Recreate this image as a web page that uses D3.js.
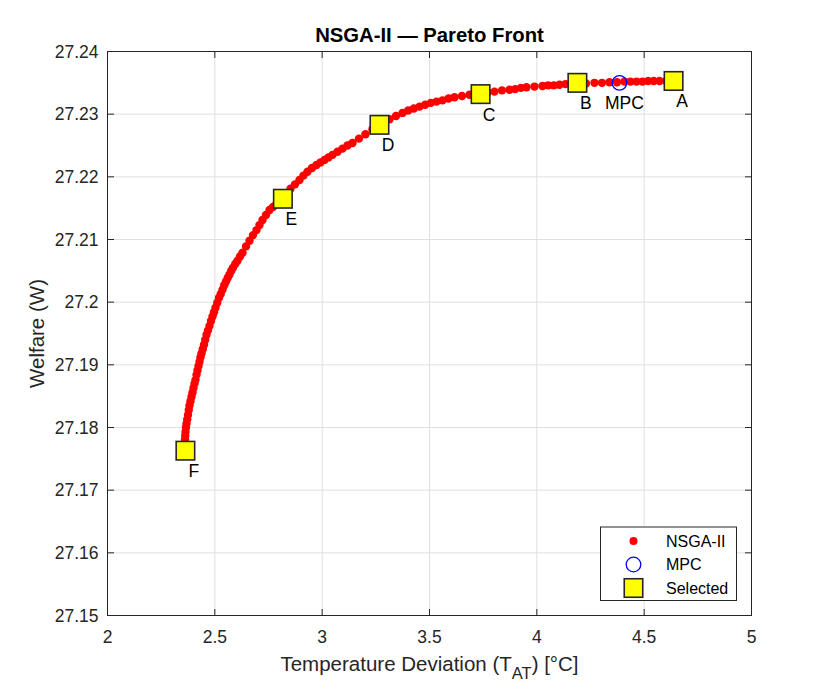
<!DOCTYPE html>
<html>
<head>
<meta charset="utf-8">
<script src="https://cdn.jsdelivr.net/npm/d3@7"></script>
<style>
  body { margin: 0; background: #fff; }
  svg { font-family: "Liberation Sans", Arial, Helvetica, sans-serif; }
</style>
</head>
<body>
<div id="chart"></div>
<script>
// NSGA-II front (temperature deviation, welfare)
const nsgaX = [
  2.3610, 2.3622, 2.3634, 2.3655, 2.3680, 2.3713, 2.3750, 2.3785, 2.3820, 2.3866,
  2.3913, 2.3960, 2.4006, 2.4052, 2.4099, 2.4146, 2.4193, 2.4240, 2.4286, 2.4332,
  2.4379, 2.4437, 2.4495, 2.4553, 2.4612, 2.4682, 2.4752, 2.4821, 2.4891, 2.4961,
  2.5031, 2.5112, 2.5194, 2.5275, 2.5357, 2.5438, 2.5520, 2.5601, 2.5683, 2.5764,
  2.5846, 2.5951, 2.6056, 2.6172, 2.6289, 2.6452, 2.6615, 2.6778, 2.6941, 2.7080,
  2.7220, 2.7383, 2.7547, 2.7710, 2.7873, 2.8012, 2.8152, 2.8338, 2.8525, 2.8734,
  2.8944, 2.9130, 2.9317, 2.9526, 2.9736, 2.9922, 3.0109, 3.0295, 3.0481, 3.0714,
  3.0947, 3.1180, 3.1413, 3.1715, 3.2018, 3.2344, 3.2671, 3.2904, 3.3136, 3.3439,
  3.3742, 3.4006, 3.4270, 3.4534, 3.4798, 3.5062, 3.5326, 3.5606, 3.5886, 3.6165,
  3.6514, 3.6863, 3.7120, 3.7376, 3.7702, 3.8028, 3.8378, 3.8727, 3.8991, 3.9255,
  3.9518, 3.9891, 4.0264, 4.0528, 4.0792, 4.1056, 4.1335, 4.1615, 4.1894, 4.2290,
  4.2686, 4.3036, 4.3385, 4.3735, 4.4084, 4.4363, 4.4643, 4.4922, 4.5186, 4.5450,
  4.5714, 4.6017, 4.6320
];
const nsgaY = [
  27.1781, 27.1787, 27.1793, 27.1800, 27.1806, 27.1813, 27.1820, 27.1828, 27.1835, 27.1842,
  27.1849, 27.1856, 27.1863, 27.1870, 27.1876, 27.1884, 27.1891, 27.1898, 27.1905, 27.1912,
  27.1918, 27.1925, 27.1932, 27.1940, 27.1948, 27.1955, 27.1962, 27.1970, 27.1977, 27.1984,
  27.1991, 27.1999, 27.2007, 27.2013, 27.2020, 27.2027, 27.2033, 27.2039, 27.2044, 27.2050,
  27.2055, 27.2061, 27.2066, 27.2073, 27.2079, 27.2089, 27.2098, 27.2107, 27.2115, 27.2123,
  27.2131, 27.2139, 27.2147, 27.2152, 27.2157, 27.2162, 27.2166, 27.2174, 27.2181, 27.2188,
  27.2195, 27.2202, 27.2208, 27.2214, 27.2219, 27.2223, 27.2227, 27.2231, 27.2235, 27.2240,
  27.2245, 27.2250, 27.2254, 27.2261, 27.2268, 27.2276, 27.2283, 27.2288, 27.2292, 27.2297,
  27.2302, 27.2306, 27.2309, 27.2312, 27.2315, 27.2318, 27.2320, 27.2322, 27.2325, 27.2327,
  27.2329, 27.2331, 27.2332, 27.2333, 27.2335, 27.2336, 27.2338, 27.2339, 27.2340, 27.2342,
  27.2343, 27.2344, 27.2345, 27.2346, 27.2346, 27.2347, 27.2348, 27.2348, 27.2349, 27.2349,
  27.2350, 27.2350, 27.2351, 27.2351, 27.2352, 27.2352, 27.2352, 27.2352, 27.2353, 27.2353,
  27.2353, 27.2353, 27.2353
];

// MPC reference point
const mpcX = 4.385;
const mpcY = 27.2350;

// selected solutions
const selLabels = ["A", "B", "C", "D", "E", "F"];
const selX = [4.637, 4.189, 3.738, 3.267, 2.817, 2.363];
const selY = [27.2353, 27.2350, 27.2332, 27.2283, 27.2165, 27.1763];

const xTicks = [2, 2.5, 3, 3.5, 4, 4.5, 5];
const yTicks = [27.15, 27.16, 27.17, 27.18, 27.19, 27.2, 27.21, 27.22, 27.23, 27.24];

const W = 830, H = 692;
const box = { l: 107.5, r: 751.5, t: 51.5, b: 615.5 };
const ink = "#262626";

const x = d3.scaleLinear().domain([2, 5]).range([box.l, box.r]);
const y = d3.scaleLinear().domain([27.15, 27.24]).range([box.b, box.t]);

const svg = d3.select("#chart").append("svg")
    .attr("width", W)
    .attr("height", H)
    .attr("viewBox", `0 0 ${W} ${H}`);

svg.append("rect").attr("width", W).attr("height", H).attr("fill", "#fff");

// grid
const grid = svg.append("g").attr("stroke", "#dfdfdf").attr("stroke-width", 1);
grid.selectAll("line.gx")
    .data(xTicks.slice(1, -1))
    .join("line")
    .attr("x1", d => x(d)).attr("x2", d => x(d))
    .attr("y1", box.t).attr("y2", box.b);
grid.selectAll("line.gy")
    .data(yTicks.slice(1, -1))
    .join("line")
    .attr("class", "gy")
    .attr("x1", box.l).attr("x2", box.r)
    .attr("y1", d => y(d)).attr("y2", d => y(d));

// NSGA-II dots
const front = nsgaX.map((v, i) => ({ x: v, y: nsgaY[i] }));
svg.append("g")
    .selectAll("circle")
    .data(front)
    .join("circle")
    .attr("cx", d => x(d.x))
    .attr("cy", d => y(d.y))
    .attr("r", 4.2)
    .attr("fill", "#ff0000");

// MPC
svg.append("circle")
    .attr("cx", x(mpcX)).attr("cy", y(mpcY))
    .attr("r", 7.3)
    .attr("fill", "none")
    .attr("stroke", "#0000ff")
    .attr("stroke-width", 1.3);

// selected squares
const sel = selLabels.map((l, i) => ({ label: l, x: selX[i], y: selY[i] }));
const sq = 18.5;
svg.append("g")
    .selectAll("rect")
    .data(sel)
    .join("rect")
    .attr("x", d => x(d.x) - sq / 2)
    .attr("y", d => y(d.y) - sq / 2)
    .attr("width", sq).attr("height", sq)
    .attr("fill", "#ffff00")
    .attr("stroke", ink)
    .attr("stroke-width", 1.6);

// point labels
const labels = svg.append("g")
    .attr("font-size", "17.5px")
    .attr("fill", "#000")
    .attr("text-anchor", "middle");
labels.selectAll("text")
    .data(sel)
    .join("text")
    .attr("x", d => x(d.x) + 8.5)
    .attr("y", d => y(d.y) + 26.5)
    .text(d => d.label);
labels.append("text")
    .attr("x", x(mpcX) + 5)
    .attr("y", y(mpcY) + 26.5)
    .text("MPC");

// axes box with inward ticks on all sides
const ax = svg.append("g").attr("stroke", ink).attr("stroke-width", 1).attr("fill", "none");
ax.append("rect")
    .attr("x", box.l).attr("y", box.t)
    .attr("width", box.r - box.l).attr("height", box.b - box.t);
const tl = 6.5;
xTicks.forEach(t => {
  ax.append("line").attr("x1", x(t)).attr("x2", x(t)).attr("y1", box.b).attr("y2", box.b - tl);
  ax.append("line").attr("x1", x(t)).attr("x2", x(t)).attr("y1", box.t).attr("y2", box.t + tl);
});
yTicks.forEach(t => {
  ax.append("line").attr("x1", box.l).attr("x2", box.l + tl).attr("y1", y(t)).attr("y2", y(t));
  ax.append("line").attr("x1", box.r).attr("x2", box.r - tl).attr("y1", y(t)).attr("y2", y(t));
});

// tick labels
const tickText = svg.append("g").attr("font-size", "17.5px").attr("fill", ink);
tickText.selectAll("text.xt")
    .data(xTicks)
    .join("text")
    .attr("class", "xt")
    .attr("x", d => x(d))
    .attr("y", box.b + 27)
    .attr("text-anchor", "middle")
    .text(d => d3.format("~g")(d));
tickText.selectAll("text.yt")
    .data(yTicks)
    .join("text")
    .attr("class", "yt")
    .attr("x", box.l - 9)
    .attr("y", d => y(d) + 6.3)
    .attr("text-anchor", "end")
    .text(d => d3.format("~g")(d));

// axis titles
const xl = svg.append("text")
    .attr("x", (box.l + box.r) / 2)
    .attr("y", box.b + 55.5)
    .attr("text-anchor", "middle")
    .attr("font-size", "20.5px")
    .attr("fill", ink);
xl.append("tspan").text("Temperature Deviation (T");
xl.append("tspan").attr("font-size", "16.5px").attr("dy", 8).text("AT");
xl.append("tspan").attr("dy", -8).text(") [°C]");

svg.append("text")
    .attr("transform", `translate(44,${(box.t + box.b) / 2}) rotate(-90)`)
    .attr("text-anchor", "middle")
    .attr("font-size", "20.5px")
    .attr("fill", ink)
    .text("Welfare (W)");

svg.append("text")
    .attr("x", (box.l + box.r) / 2)
    .attr("y", 42)
    .attr("text-anchor", "middle")
    .attr("font-size", "20.3px")
    .attr("font-weight", "bold")
    .attr("fill", "#000")
    .text("NSGA-II \u2014 Pareto Front");

// legend
const lg = svg.append("g").attr("transform", "translate(600.5,527)");
lg.append("rect")
    .attr("width", 136).attr("height", 73.5)
    .attr("fill", "#fff")
    .attr("stroke", ink)
    .attr("stroke-width", 1);
const legendNames = ["NSGA-II", "MPC", "Selected"];
const ly = [14, 37.5, 61];
lg.append("circle").attr("cx", 33).attr("cy", ly[0]).attr("r", 4).attr("fill", "#ff0000");
lg.append("circle").attr("cx", 33).attr("cy", ly[1]).attr("r", 7.3)
    .attr("fill", "none").attr("stroke", "#0000ff").attr("stroke-width", 1.3);
lg.append("rect").attr("x", 33 - sq / 2).attr("y", ly[2] - sq / 2)
    .attr("width", sq).attr("height", sq)
    .attr("fill", "#ffff00").attr("stroke", ink).attr("stroke-width", 1.6);
lg.selectAll("text")
    .data(legendNames)
    .join("text")
    .attr("x", 65.5)
    .attr("y", (d, i) => ly[i] + 5.8)
    .attr("font-size", "16px")
    .attr("fill", "#000")
    .text(d => d);
</script>
</body>
</html>
